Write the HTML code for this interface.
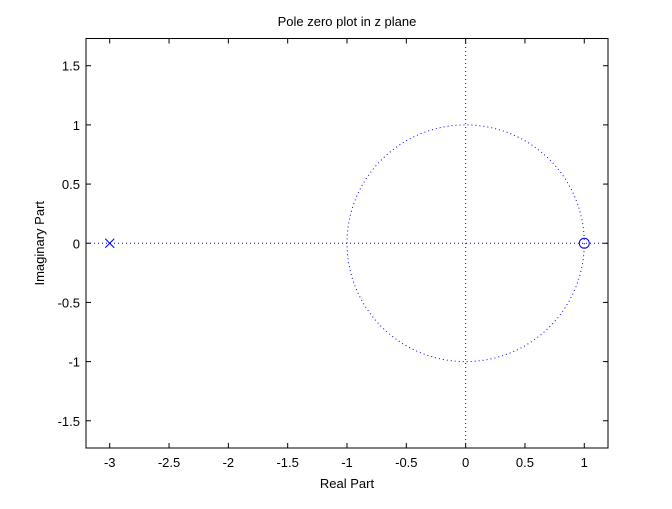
<!DOCTYPE html>
<html><head><meta charset="utf-8"><style>
body{margin:0;background:#fff;}
svg text{font-family:"Liberation Sans",Arial,sans-serif;font-size:13px;fill:#000;}
</style></head><body>
<svg id="c" width="672" height="504"></svg>
<script>
const xTicks=[-3,-2.5,-2,-1.5,-1,-0.5,0,0.5,1];
const xTickLabels=["-3","-2.5","-2","-1.5","-1","-0.5","0","0.5","1"];
const yTicks=[-1.5,-1,-0.5,0,0.5,1,1.5];
const yTickLabels=["-1.5","-1","-0.5","0","0.5","1","1.5"];
const polesRe=[-3];
const polesIm=[0];
const zerosRe=[1];
const zerosIm=[0];
const xMin=-3.2,xMax=1.2,yMin=-1.73,yMax=1.73;
const L=86,R=608,T=38.5,B=448;
const sx=v=>L+(v-xMin)/(xMax-xMin)*(R-L);
const sy=v=>B-(v-yMin)/(yMax-yMin)*(B-T);
const svg=document.getElementById('c');
const NS='http://www.w3.org/2000/svg';
function mk(t,a,p){const e=document.createElementNS(NS,t);for(const k in a)e.setAttribute(k,a[k]);(p||svg).appendChild(e);return e;}
let bg=mk('rect',{x:L,y:T,width:R-L,height:B-T,fill:'#fff',stroke:'#000','stroke-width':1});


const tl=5;
xTicks.forEach((v,i)=>{const x=sx(v);
 mk('line',{x1:x,x2:x,y1:B,y2:B-tl,stroke:'#000'});mk('line',{x1:x,x2:x,y1:T,y2:T+tl,stroke:'#000'});
 const t=mk('text',{x:x,y:B+19,'text-anchor':'middle'});t.textContent=xTickLabels[i];
 
 });
yTicks.forEach((v,i)=>{const y=sy(v);
 mk('line',{x1:L,x2:L+tl,y1:y,y2:y,stroke:'#000'});mk('line',{x1:R,x2:R-tl,y1:y,y2:y,stroke:'#000'});
 const t=mk('text',{x:L-6,y:y+5,'text-anchor':'end'});t.textContent=yTickLabels[i];
 
 });
const dot={stroke:'#00f','stroke-width':1,'stroke-dasharray':'1 3',fill:'none'};
let ax=mk('line',Object.assign({x1:sx(xMin),x2:sx(xMax),y1:sy(0),y2:sy(0)},dot));


let ay=mk('line',Object.assign({x1:sx(0),x2:sx(0),y1:sy(yMin),y2:sy(yMax)},dot));


let uc=mk('ellipse',Object.assign({cx:sx(0),cy:sy(0),rx:sx(1)-sx(0),ry:sy(0)-sy(1)},dot));


polesRe.forEach((r,i)=>{const x=sx(r),y=sy(polesIm[i]);
 const g=mk('g',{stroke:'#00f','stroke-width':1});
 
 
 mk('line',{x1:x-4.5,y1:y-4.5,x2:x+4.5,y2:y+4.5},g);mk('line',{x1:x-4.5,y1:y+4.5,x2:x+4.5,y2:y-4.5},g);});
zerosRe.forEach((r,i)=>{const c=mk('circle',{cx:sx(r),cy:sy(zerosIm[i]),r:5,stroke:'#00f',fill:'none','stroke-width':1});
 
 });
let t=mk('text',{x:(L+R)/2,y:26,'text-anchor':'middle'});t.textContent='Pole zero plot in z plane';


t=mk('text',{x:(L+R)/2,y:488,'text-anchor':'middle'});t.textContent='Real Part';


t=mk('text',{x:0,y:0,'text-anchor':'middle',transform:`translate(44,${(T+B)/2}) rotate(-90)`});t.textContent='Imaginary Part';


</script>
</body></html>
